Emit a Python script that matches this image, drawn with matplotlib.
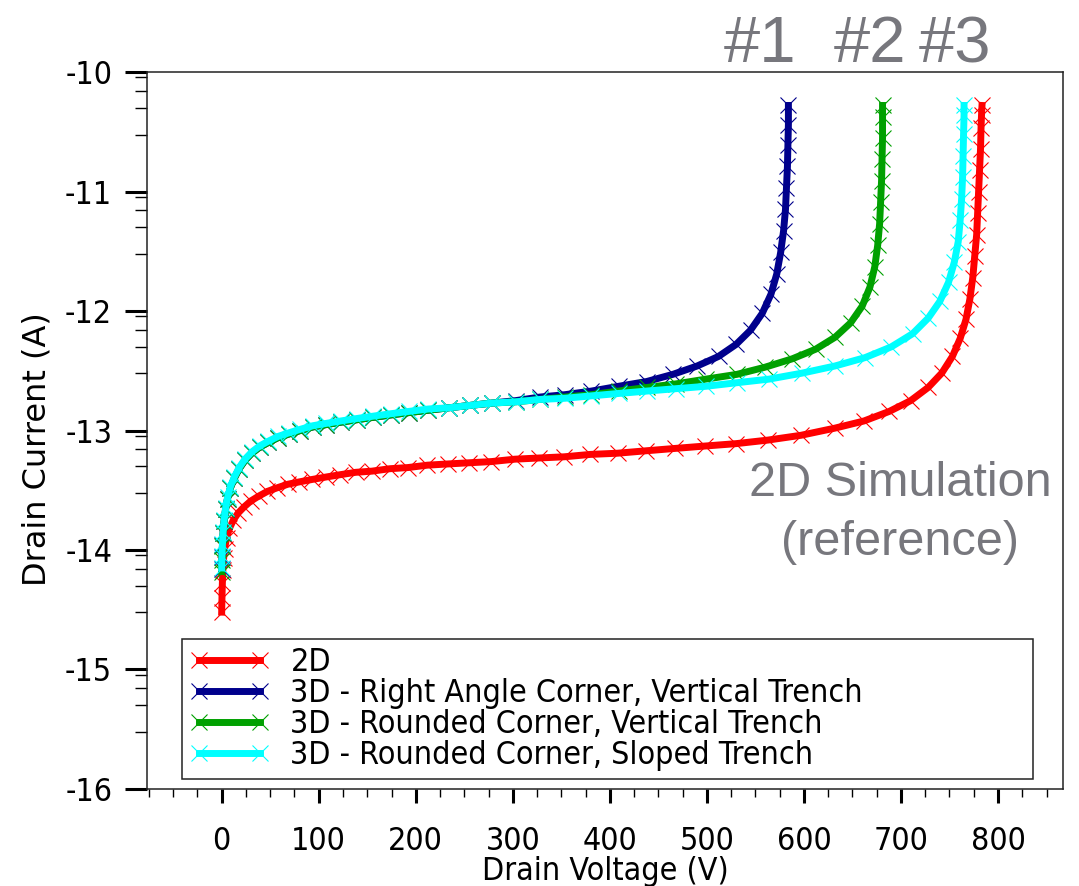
import numpy as np
import matplotlib.pyplot as plt
from matplotlib.ticker import FixedLocator, MultipleLocator

# Breakdown sweeps: drain voltage (V) vs log10 of drain current (A)
v_2d = [0, 0.3, 0.7, 1.2, 2, 3, 5, 8, 12, 17, 23, 30, 38, 47, 57, 68, 80, 93,
        107, 122, 138, 155, 173, 192, 212, 233, 255, 278, 302, 327, 353, 380,
        408, 437, 467, 498, 530, 563, 597, 632, 662, 688, 710, 728, 742, 753,
        761, 767, 771, 774, 776, 778, 779, 780, 781, 782, 782.5, 783, 783.5]
i_2d = [-14.52, -14.40, -14.28, -14.17, -14.07, -13.99, -13.90, -13.82, -13.75,
        -13.69, -13.64, -13.59, -13.55, -13.51, -13.48, -13.45, -13.43, -13.41,
        -13.39, -13.37, -13.35, -13.34, -13.32, -13.31, -13.29, -13.28, -13.27,
        -13.26, -13.24, -13.23, -13.22, -13.20, -13.19, -13.17, -13.15, -13.13,
        -13.11, -13.08, -13.04, -12.98, -12.92, -12.84, -12.75, -12.64, -12.52,
        -12.38, -12.23, -12.07, -11.90, -11.72, -11.54, -11.36, -11.18, -11.00,
        -10.82, -10.64, -10.47, -10.36, -10.28]

v_right = [0, 0.3, 0.8, 1.5, 2.5, 4, 6, 9, 13, 18, 24, 31, 39, 48, 58, 69, 81,
           94, 108, 123, 139, 156, 174, 193, 213, 234, 256, 279, 303, 328, 354,
           381, 409, 438, 465, 490, 512, 530, 545, 557, 566, 572, 576, 579, 581,
           582, 583, 583.5, 584, 584]
i_right = [-14.16, -14.06, -13.96, -13.86, -13.76, -13.66, -13.57, -13.48,
           -13.40, -13.32, -13.25, -13.19, -13.14, -13.10, -13.06, -13.03,
           -13.00, -12.97, -12.95, -12.93, -12.91, -12.89, -12.87, -12.85,
           -12.83, -12.81, -12.79, -12.77, -12.75, -12.72, -12.70, -12.67,
           -12.63, -12.59, -12.53, -12.46, -12.38, -12.28, -12.16, -12.02,
           -11.86, -11.69, -11.51, -11.33, -11.15, -10.97, -10.79, -10.61,
           -10.44, -10.28]

v_round = [0, 0.3, 0.8, 1.5, 2.5, 4, 6, 9, 13, 18, 24, 31, 39, 48, 58, 69, 81,
           94, 108, 123, 139, 156, 174, 193, 213, 234, 256, 279, 303, 328, 354,
           381, 409, 438, 468, 499, 531, 560, 588, 612, 632, 648, 660, 668, 673,
           676, 678, 679, 680, 680.5, 681, 681, 681]
i_round = [-14.18, -14.08, -13.97, -13.86, -13.76, -13.66, -13.57, -13.48,
           -13.40, -13.32, -13.25, -13.19, -13.14, -13.10, -13.06, -13.03,
           -13.00, -12.97, -12.95, -12.93, -12.91, -12.89, -12.87, -12.85,
           -12.83, -12.81, -12.79, -12.77, -12.76, -12.74, -12.72, -12.70,
           -12.67, -12.64, -12.61, -12.57, -12.53, -12.47, -12.40, -12.32,
           -12.22, -12.10, -11.96, -11.80, -11.63, -11.45, -11.27, -11.09,
           -10.91, -10.73, -10.55, -10.38, -10.28]

v_sloped = [0, 0.3, 0.8, 1.5, 2.5, 4, 6, 9, 13, 18, 24, 31, 39, 48, 58, 69, 81,
            94, 108, 123, 139, 156, 174, 193, 213, 234, 256, 279, 303, 328, 354,
            381, 409, 438, 468, 499, 531, 564, 598, 632, 663, 690, 712, 728,
            740, 749, 755, 759, 761, 762.5, 763.5, 764, 764.5, 765, 765]
i_sloped = [-14.15, -14.05, -13.95, -13.85, -13.75, -13.65, -13.56, -13.47,
            -13.39, -13.31, -13.24, -13.18, -13.13, -13.09, -13.05, -13.02,
            -12.99, -12.96, -12.94, -12.92, -12.90, -12.88, -12.86, -12.84,
            -12.82, -12.81, -12.79, -12.77, -12.76, -12.74, -12.73, -12.71,
            -12.69, -12.67, -12.65, -12.63, -12.60, -12.57, -12.52, -12.46,
            -12.39, -12.30, -12.19, -12.06, -11.92, -11.76, -11.59, -11.42,
            -11.24, -11.06, -10.88, -10.70, -10.52, -10.36, -10.28]

labels = ["2D",
          "3D - Right Angle Corner, Vertical Trench",
          "3D - Rounded Corner, Vertical Trench",
          "3D - Rounded Corner, Sloped Trench"]
colors = ["#ff0000", "#00008c", "#00a000", "#00ffff"]

plt.rcParams["font.family"] = "DejaVu Sans"
plt.rcParams["font.stretch"] = "condensed"
plt.rcParams["axes.unicode_minus"] = False

fig = plt.figure(figsize=(10.79, 8.86), dpi=100)
ax = fig.add_axes([0.1362, 0.1095, 0.8490, 0.8092])

series = [(v_2d, i_2d), (v_right, i_right), (v_round, i_round), (v_sloped, i_sloped)]
for (v, i), lab, c in zip(series, labels, colors):
    ax.plot(v, i, color=c, lw=5, marker="x", ms=12, mew=0.8, label=lab)

ax.set_xlim(-77, 867)
ax.set_ylim(-16, -10)

ax.xaxis.set_major_locator(MultipleLocator(100))
ax.xaxis.set_minor_locator(MultipleLocator(25))
ax.yaxis.set_major_locator(MultipleLocator(1))
minor_y = [d + np.log10(k) for d in range(-16, -10) for k in (3, 5, 7, 9)]
ax.yaxis.set_minor_locator(FixedLocator(minor_y))

ax.tick_params(axis="x", which="major", length=10, width=2.2, pad=17, labelsize=23)
ax.tick_params(axis="x", which="minor", length=5.8, width=1.0)
ax.tick_params(axis="y", which="major", length=16, width=2.2, pad=9, labelsize=23)
ax.tick_params(axis="y", which="minor", length=8.6, width=1.0)
for s in ax.spines.values():
    s.set_linewidth(1.1)
    s.set_color("#222222")

ax.set_xlabel("Drain Voltage (V)", fontsize=23)
ax.set_ylabel("Drain Current (A)", fontsize=23, fontstretch="normal")
ax.xaxis.set_label_coords(0.5, -0.093)
ax.yaxis.set_label_coords(-0.1026, 0.474)

leg = ax.legend(loc="upper left", bbox_to_anchor=(0.038, 0.0195, 0.929, 0.1895),
                mode="expand", borderaxespad=0, fontsize=23, numpoints=2,
                handlelength=2.5, handletextpad=0.65, labelspacing=0.0,
                borderpad=0.25, fancybox=False, framealpha=1)
leg.get_frame().set_edgecolor("#222222")
leg.get_frame().set_linewidth(1.1)

# annotations for each breakdown curve
note_color = "#77777d"
for x, t in [(0.7044, "#1"), (0.8063, "#2"), (0.8851, "#3")]:
    fig.text(x, 0.930, t, ha="center", va="baseline", fontsize=47,
             color=note_color, family="Liberation Sans", stretch="normal")
fig.text(0.834, 0.421, "2D Simulation\n(reference)", ha="center", va="center",
         multialignment="center", fontsize=35, linespacing=1.4,
         color=note_color, family="Liberation Sans", stretch="normal")

fig.savefig("out.png", dpi=100)
